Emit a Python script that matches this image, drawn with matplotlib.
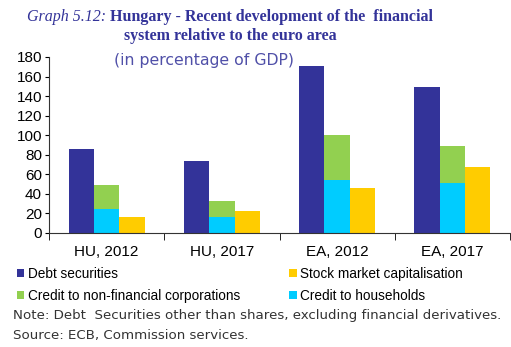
import numpy as np
import matplotlib
matplotlib.use("Agg")
import matplotlib.pyplot as plt

categories = ["HU, 2012", "HU, 2017", "EA, 2012", "EA, 2017"]
debt_securities = [86, 74, 171, 149]
credit_households = [25, 16, 54, 51]
credit_nfc = [24, 17, 46, 38]
stock_market = [16, 22, 46, 68]

c_debt = "#333399"
c_nfc = "#92D050"
c_hh = "#00CCFF"
c_stock = "#FFCC00"
title_col = "#333399"

plt.rcParams["font.family"] = "Liberation Sans"

fig = plt.figure(figsize=(5.11, 3.47), dpi=100)
ax = fig.add_axes([49/511, 1-233/347, 461/511, 176/347])

x = np.arange(len(categories))
w = 0.22
b1 = ax.bar(x - w, debt_securities, w, color=c_debt)
b3 = ax.bar(x, credit_households, w, color=c_hh)
b2 = ax.bar(x, credit_nfc, w, bottom=credit_households, color=c_nfc)
b4 = ax.bar(x + w, stock_market, w, color=c_stock)

ax.set_ylim(0, 180)
ax.set_yticks(range(0, 181, 20))
ax.set_xlim(-0.5, len(categories) - 0.5)
ax.set_xticks(x)
ax.set_xticklabels(categories)
ax.set_xticks(np.arange(-0.5, len(categories), 1), minor=True)
ax.tick_params(axis="x", which="major", length=0, pad=9, labelsize=11)
ax.tick_params(axis="x", which="minor", length=5, direction="out")
ax.tick_params(axis="y", length=3, labelsize=11, pad=2)
for s in ["top", "right"]:
    ax.spines[s].set_visible(False)
for s in ["left", "bottom"]:
    ax.spines[s].set_color("#333333")

leg = fig.legend([b1, b2, b4, b3],
                 ["Debt securities", "Credit to non-financial corporations",
                  "Stock market capitalisation", "Credit to households"],
                 ncol=2, loc="upper left", bbox_to_anchor=(17/511, 1-267/347),
                 frameon=False, fontsize=9.8, handlelength=0.55, handleheight=0.55,
                 handletextpad=0.25, columnspacing=3.6, labelspacing=0.6,
                 borderpad=0, borderaxespad=0)

fig.text(27/511, 1-17/347, "Graph 5.12:", family="Liberation Serif", style="italic",
         fontsize=11.5, color=title_col, va="center")
fig.text(110/511, 1-17/347, "Hungary - Recent development of the  financial",
         family="Liberation Serif", weight="bold", fontsize=11.5, color=title_col, va="center")
fig.text(230/511, 1-36/347, "system relative to the euro area",
         family="Liberation Serif", weight="bold", fontsize=11.5, color=title_col,
         va="center", ha="center")
fig.text(204/511, 1-61/347, "(in percentage of GDP)", family="DejaVu Sans",
         fontsize=11.3, color="#5050A8", va="center", ha="center")

fig.text(13/511, 1-316/347,
         "Note: Debt  Securities other than shares, excluding financial derivatives.",
         family="DejaVu Sans", fontsize=9.6, color="#333333", va="center")
fig.text(13/511, 1-336/347, "Source: ECB, Commission services.",
         family="DejaVu Sans", fontsize=9.6, color="#333333", va="center")

fig.savefig("out.png", dpi=100)
